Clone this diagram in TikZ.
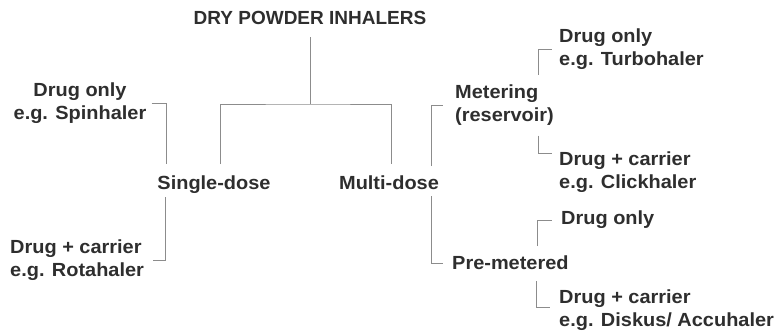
\documentclass[tikz,border=0pt]{standalone}
\usepackage{fontspec}
\setmainfont[FakeStretch=1.05]{Liberation Sans}
\newfontfamily\titlefont{Liberation Sans}
\usepackage{tikz}
\usetikzlibrary{calc}
\usetikzlibrary{positioning}
\definecolor{txtgray}{HTML}{2E2E2E}
\definecolor{linegray}{HTML}{8C8C8C}

\begin{document}
\begin{tikzpicture}[x=1pt,y=1pt,
  every node/.style={draw=none,inner sep=0pt,text=txtgray,align=left,
    font=\fontsize{19}{22.5}\selectfont\bfseries},
  branch/.style={draw=linegray,line width=0.8pt}]
  \useasboundingbox (0,0) rectangle (775,334);

  \draw node[anchor=base,font=\titlefont\fontsize{19}{22.5}\selectfont\bfseries]
        (dpi) at (310,309) {DRY POWDER INHALERS};
  \draw node[anchor=base] (sdose) at (214,144) {Single-dose};
  \draw node[anchor=base] (mdose) at (389,144) {Multi-dose};

  \draw node[anchor=north,align=center] (spin) at (80,251) {Drug only\\ e.g. Spinhaler};
  \draw node[anchor=north west] (rota) at (10,94) {Drug + carrier\\ e.g. Rotahaler};

  \draw node[anchor=north west] (meter) at (455,249) {Metering\\ (reservoir)};
  \draw node[anchor=base west] (pre) at (452,64) {Pre-metered};

  \draw node[anchor=north west] (turbo) at (559,305) {Drug only\\ e.g. Turbohaler};
  \draw node[anchor=north west] (click) at (559,182) {Drug + carrier\\ e.g. Clickhaler};
  \draw node[anchor=base west] (ponly) at (561,109) {Drug only};
  \draw node[anchor=north west] (disk) at (559,44) {Drug + carrier\\ e.g. Diskus/ Accuhaler};

  % trunk
  \coordinate (hub) at (310,230);
  \draw[branch] ([yshift=-12pt]dpi.south) -- (hub);
  \draw[branch] ([xshift=6pt,yshift=12pt]sdose.north) |- (hub)
        -| ([xshift=2pt,yshift=12pt]mdose.north);

  % single-dose
  \draw[branch] ([xshift=5pt]spin.east) -| ([xshift=9pt,yshift=12pt]sdose.north west);
  \draw[branch] ([xshift=8pt,yshift=-3pt]sdose.south west) |- ([xshift=9pt]rota.east);

  % multi-dose
  \draw[branch] ([xshift=-8pt,yshift=10pt]mdose.north east) |- ([xshift=-12pt]meter.west);
  \draw[branch] ([xshift=-8pt,yshift=-6pt]mdose.south east) |- ([xshift=-9pt]pre.west);

  \draw[branch] ($(meter.north east)+(-16,10)$) |- ([xshift=-7pt]turbo.west);
  \draw[branch] ($(meter.south east)+(-16,-10)$) |- ([xshift=-7pt,yshift=-1pt]click.north west);

  \draw[branch] ($(pre.north east)+(-31,10)$) |- ([xshift=-9pt]ponly.west);
  \draw[branch] ($(pre.south east)+(-32,-11)$) |- ([xshift=-9pt,yshift=3pt]disk.west);

\end{tikzpicture}
\end{document}
